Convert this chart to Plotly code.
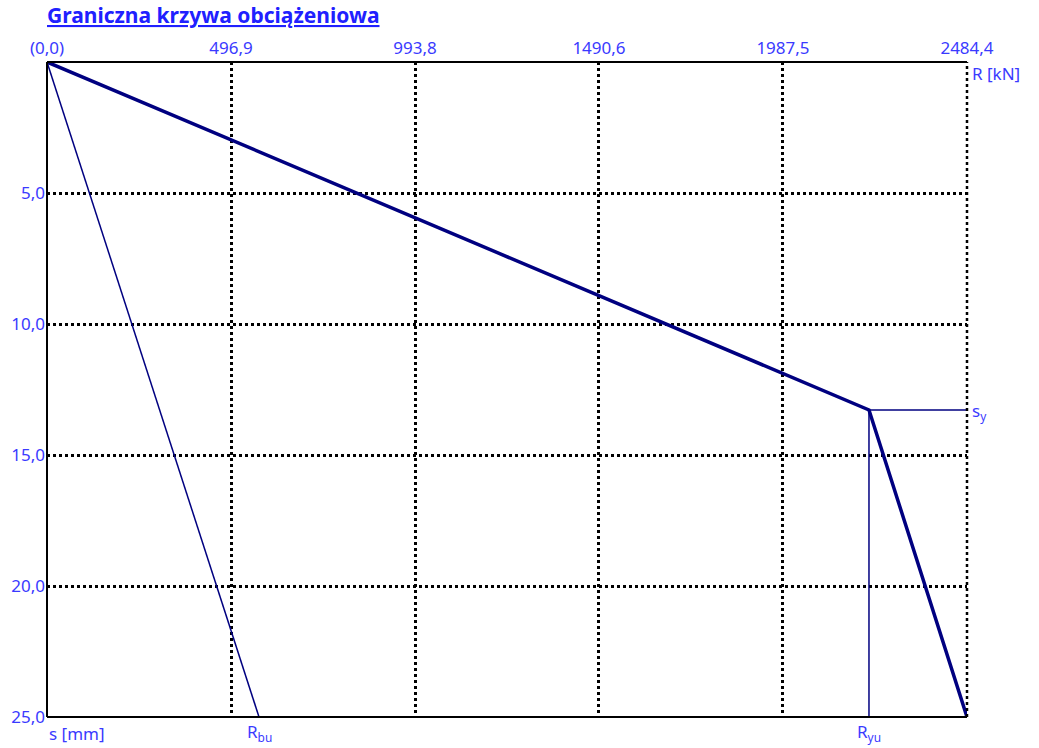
import plotly.graph_objects as go

# Load-settlement limit curve data
R_ticks = [0.0, 496.9, 993.8, 1490.6, 1987.5, 2484.4]
R_tick_text = ["(0,0)", "496,9", "993,8", "1490,6", "1987,5", "2484,4"]
s_ticks = [5.0, 10.0, 15.0, 20.0, 25.0]
s_tick_text = ["5,0", "10,0", "15,0", "20,0", "25,0"]

R_max = 2484.4
s_max = 25.0
R_bu = 572.5
R_yu = 2219.7
s_y = 13.28

# Main limit curve (thick) and base-resistance line (thin)
curve_R = [0.0, R_yu, R_max]
curve_s = [0.0, s_y, s_max]
base_R = [0.0, R_bu]
base_s = [0.0, s_max]

LINE = "#000080"
TXT = "#3a3aff"
FONT = "Noto Sans"
FS = 17

fig = go.Figure()

fig.add_trace(go.Scatter(x=base_R, y=base_s, mode="lines",
                         line=dict(color=LINE, width=1.5), hoverinfo="skip"))
# guide lines at the yield point
fig.add_trace(go.Scatter(x=[R_yu, R_yu], y=[s_y, s_max], mode="lines",
                         line=dict(color=LINE, width=1.5), hoverinfo="skip"))
fig.add_trace(go.Scatter(x=[R_yu, R_max], y=[s_y, s_y], mode="lines",
                         line=dict(color=LINE, width=1.5), hoverinfo="skip"))
fig.add_trace(go.Scatter(x=curve_R, y=curve_s, mode="lines",
                         line=dict(color=LINE, width=3.5), hoverinfo="skip"))

fig.update_layout(
    width=1039, height=748,
    margin=dict(l=47, r=72, t=62, b=31),
    paper_bgcolor="white", plot_bgcolor="white",
    showlegend=False,
    font=dict(family=FONT, size=FS, color=TXT),
    xaxis=dict(
        side="top", range=[0, R_max], tickvals=R_ticks, ticktext=R_tick_text,
        showgrid=True, gridcolor="black", gridwidth=2.5, griddash="dot",
        zeroline=False, showline=False, ticks="", ticklabelstandoff=4,
        tickfont=dict(family=FONT, size=FS, color=TXT),
    ),
    yaxis=dict(
        range=[s_max, 0], tickvals=s_ticks, ticktext=s_tick_text,
        showgrid=True, gridcolor="black", gridwidth=2.5, griddash="dot",
        zeroline=False, showline=False, ticks="", ticklabelstandoff=1,
        tickfont=dict(family=FONT, size=FS, color=TXT),
    ),
)

# Frame: solid top, left and bottom edges, dotted right edge
frame = dict(type="line", xref="paper", yref="paper", layer="above",
             line=dict(color="black", width=2))
fig.add_shape(x0=0, x1=1, y0=1, y1=1, **frame)
fig.add_shape(x0=0, x1=0, y0=0, y1=1, **frame)
fig.add_shape(x0=0, x1=1, y0=0, y1=0, **frame)
fig.add_shape(type="line", xref="paper", yref="paper", x0=1, x1=1, y0=0, y1=1,
              layer="above", line=dict(color="black", width=2.5, dash="dot"))

# Title
fig.add_annotation(text="<b><u>Graniczna krzywa obciążeniowa</u></b>",
                   xref="paper", yref="paper", x=-0.002, y=1.0,
                   xanchor="left", yanchor="bottom", yshift=31,
                   showarrow=False, font=dict(family=FONT, size=21, color="#2020ff"))

# Axis names and point labels
fig.add_annotation(text="R [kN]", xref="paper", yref="paper", x=1, y=1,
                   xanchor="left", yanchor="top", xshift=3, yshift=2,
                   showarrow=False, font=dict(family=FONT, size=FS, color=TXT))
fig.add_annotation(text="s [mm]", xref="paper", yref="paper", x=0, y=0,
                   xanchor="left", yanchor="top", yshift=-3,
                   showarrow=False, font=dict(family=FONT, size=FS, color=TXT))
fig.add_annotation(text="s<sub>y</sub>", xref="paper", yref="y", x=1, y=s_y,
                   xanchor="left", yanchor="middle", xshift=3, yshift=-2,
                   showarrow=False, font=dict(family=FONT, size=FS, color=TXT))
fig.add_annotation(text="R<sub>bu</sub>", xref="x", yref="paper", x=R_bu, y=0,
                   xanchor="center", yanchor="top", yshift=-1,
                   showarrow=False, font=dict(family=FONT, size=FS, color=TXT))
fig.add_annotation(text="R<sub>yu</sub>", xref="x", yref="paper", x=R_yu, y=0,
                   xanchor="center", yanchor="top", yshift=-1,
                   showarrow=False, font=dict(family=FONT, size=FS, color=TXT))

fig.write_html("out.html")
